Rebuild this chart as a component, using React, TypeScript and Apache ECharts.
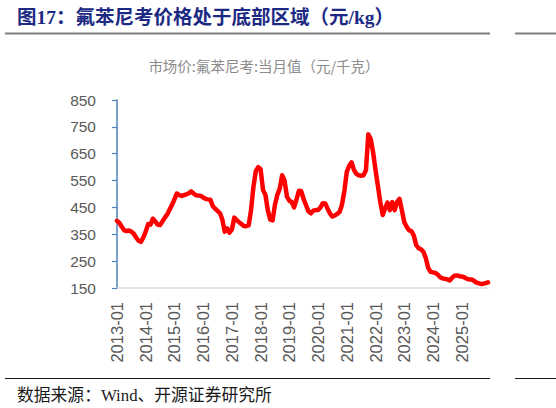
import React, { useEffect, useRef } from "react";
import * as echarts from "echarts";

// Monthly values, 元/千克
const v2013 = [400, 392, 378, 365, 362, 364, 360, 352, 338, 326, 322, 338];
const v2014 = [360, 388, 386, 408, 398, 386, 384, 398, 412, 424, 442, 460];
const v2015 = [480, 502, 496, 493, 496, 499, 503, 510, 502, 495, 494, 493];
const v2016 = [487, 482, 480, 479, 455, 445, 437, 429, 405, 360, 372, 356];
const v2017 = [368, 412, 403, 395, 388, 381, 380, 383, 440, 526, 585, 600];
const v2018 = [592, 515, 497, 440, 405, 402, 460, 497, 520, 570, 550, 490];
const v2019 = [475, 470, 450, 480, 512, 510, 480, 458, 435, 428, 438, 440];
const v2020 = [440, 450, 466, 465, 445, 427, 416, 420, 426, 433, 460, 512];
const v2021 = [582, 605, 618, 590, 575, 570, 568, 570, 588, 722, 705, 655];
const v2022 = [590, 530, 470, 422, 446, 468, 440, 470, 440, 470, 482, 440];
const v2023 = [396, 378, 365, 362, 345, 310, 298, 294, 285, 262, 225, 210];
const v2024 = [208, 206, 200, 190, 186, 184, 182, 178, 188, 196, 197, 194];
const v2025 = [193, 190, 185, 182, 182, 178, 171, 168, 165, 166, 168, 171];

const yearlyValues = [
  v2013, v2014, v2015, v2016, v2017, v2018, v2019,
  v2020, v2021, v2022, v2023, v2024, v2025,
];
const firstYear = 2013;
const values: number[] = yearlyValues.flat();
const categories: string[] = [];
yearlyValues.forEach((arr, yi) => {
  arr.forEach((_, m) => {
    categories.push(`${firstYear + yi}-${String(m + 1).padStart(2, "0")}`);
  });
});

const yMin = 150;
const yMax = 850;
const yStep = 100;

const figureTitle = "图17：氟苯尼考价格处于底部区域（元/kg）";
const chartTitle = "市场价:氟苯尼考:当月值（元/千克）";
const sourceText = "数据来源：Wind、开源证券研究所";

export default function App() {
  const ref = useRef<HTMLDivElement>(null);

  useEffect(() => {
    if (!ref.current) return;
    const chart = echarts.init(ref.current, null, { renderer: "svg" });
    const labelFont = "'Liberation Sans', 'DejaVu Sans', sans-serif";
    chart.setOption({
      animation: false,
      backgroundColor: "#ffffff",
      grid: { left: 117, right: 68, top: 100, bottom: 120, containLabel: false },
      xAxis: {
        type: "category",
        data: categories,
        boundaryGap: false,
        axisLine: { show: true, lineStyle: { color: "#d9d9d9", width: 1.5 } },
        axisTick: { show: false },
        axisLabel: {
          interval: 11,
          rotate: 90,
          margin: 14,
          color: "#595959",
          fontSize: 16.5,
          fontFamily: labelFont,
        },
        splitLine: { show: false },
      },
      yAxis: {
        type: "value",
        min: yMin,
        max: yMax,
        interval: yStep,
        axisLine: { show: true, lineStyle: { color: "#4f81bd", width: 1.5 } },
        axisTick: { show: true, inside: false, length: 5, lineStyle: { color: "#4f81bd", width: 1.2 } },
        axisLabel: {
          margin: 21,
          color: "#595959",
          fontSize: 15.5,
          fontFamily: labelFont,
        },
        splitLine: { show: false },
      },
      series: [
        {
          type: "line",
          data: values,
          showSymbol: false,
          symbol: "none",
          smooth: false,
          lineStyle: { color: "#ff0000", width: 4.5, join: "round", cap: "round" },
        },
      ],
      graphic: [
        {
          type: "text",
          x: 17,
          y: 17,
          style: {
            text: figureTitle,
            fill: "#1c2a84",
            fontSize: 19.5,
            fontWeight: "bold",
            fontFamily: "'Liberation Serif', 'Noto Sans CJK SC', serif",
            textAlign: "left",
            textVerticalAlign: "middle",
          },
        },
        {
          type: "line",
          shape: { x1: 5, y1: 33.5, x2: 490, y2: 33.5 },
          style: { stroke: "#7f7f7f", lineWidth: 2 },
        },
        {
          type: "line",
          shape: { x1: 515, y1: 33.5, x2: 556, y2: 33.5 },
          style: { stroke: "#7f7f7f", lineWidth: 2 },
        },
        {
          type: "text",
          x: 264,
          y: 65,
          style: {
            text: chartTitle,
            fill: "#8c8c8c",
            fontSize: 14.5,
            fontFamily: "'Noto Sans CJK SC', sans-serif",
            textAlign: "center",
            textVerticalAlign: "middle",
          },
        },
        {
          type: "line",
          shape: { x1: 5, y1: 378.5, x2: 490, y2: 378.5 },
          style: { stroke: "#1a1a1a", lineWidth: 1.2 },
        },
        {
          type: "line",
          shape: { x1: 515, y1: 378.5, x2: 556, y2: 378.5 },
          style: { stroke: "#1a1a1a", lineWidth: 1.2 },
        },
        {
          type: "text",
          x: 17,
          y: 395,
          style: {
            text: sourceText,
            fill: "#1a1a1a",
            fontSize: 16.8,
            fontFamily: "'Liberation Serif', 'Noto Sans CJK SC', serif",
            textAlign: "left",
            textVerticalAlign: "middle",
          },
        },
      ],
    });
    return () => chart.dispose();
  }, []);

  return (
    <div
      ref={ref}
      style={{ position: "fixed", left: 0, top: 0, width: 556, height: 408, background: "#fff" }}
    />
  );
}
